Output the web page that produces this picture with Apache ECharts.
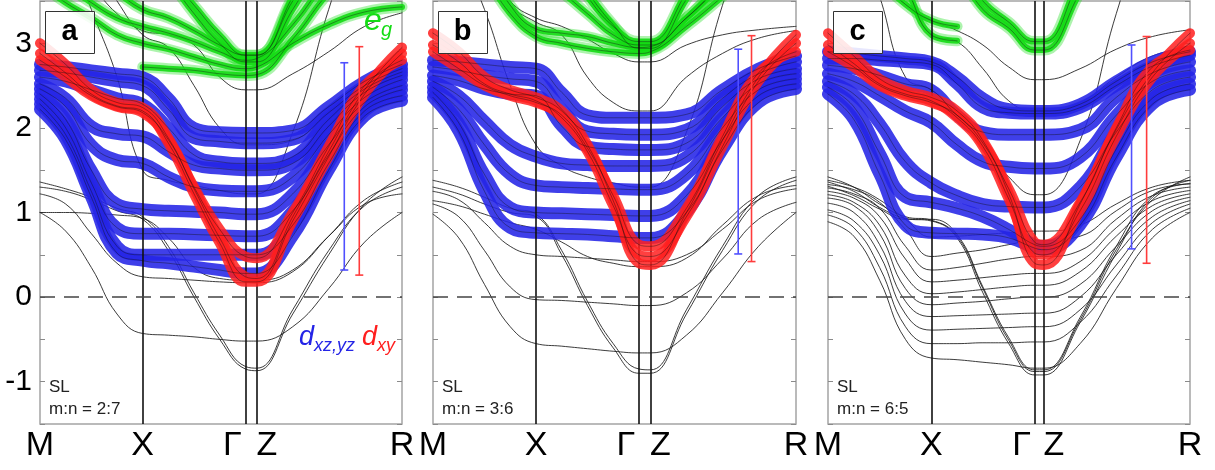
<!DOCTYPE html>
<html>
<head>
<meta charset="utf-8">
<script src="https://cdn.jsdelivr.net/npm/echarts@6/dist/echarts.min.js"></script>
<style>
  html, body { margin: 0; padding: 0; background: #fff; }
  #chart { width: 1215px; height: 470px; }
</style>
</head>
<body>
<div id="chart"></div>
<script>
// ---- k-path sampling (M, ¼, ½, ¾, X, …, Γ, Z, …, R) -------------------------
const K_A = [0, 0.25, 0.5, 0.75, 1, 1.25, 1.5, 1.75, 2, 2.111, 2.461, 2.811, 3.161, 3.525];
const K_B = [0, 0.25, 0.5, 0.75, 1, 1.25, 1.5, 1.75, 2, 2.111, 2.461, 2.811, 3.161, 3.525];
const K_C = [0, 0.25, 0.5, 0.75, 1, 1.25, 1.5, 1.75, 2, 2.091, 2.441, 2.791, 3.141, 3.505];
const K_NAMES = ['M', 'X', 'Γ', 'Z', 'R'];
const Y_TICKS = [-1, 0, 1, 2, 3];

// ---- panel a : SL m:n = 2:7 (energies in eV) -------------------------------
const GREEN_A = [
  [3.7, 3.48, 3.3, 3.1, 3.0, 2.93, 2.84, 2.75, 2.7, 2.72, 3.0, 3.22, 3.37, 3.43],
  [4.0, 3.7, 3.48, 3.3, 3.2, 3.12, 3.02, 2.9, 2.8, 2.82, 3.22, 3.8, 4.3, 4.6],
  [4.4, 4.1, 3.8, 3.6, 3.4, 3.3, 3.15, 2.98, 2.86, 2.86, 3.5, 4.2, 4.7, 5.0],
  [null, null, null, null, 2.72, 2.7, 2.68, 2.64, 2.62, 2.63, 3.05, 3.6, 4.0, 4.3],
  [5.5, 5.2, 4.8, 4.4, 4.1, 3.8, 3.45, 3.1, 2.86, 2.86, 3.55, 4.3, 4.9, 5.3],
  [5.5, 5.2, 4.8, 4.4, 4.1, 3.75, 3.35, 3.0, 2.78, 2.78, 3.4, 4.1, 4.7, 5.1]
];
const BLUE_A = [
  [2.75, 2.72, 2.68, 2.64, 2.6, 2.35, 2.0, 1.95, 1.94, 1.94, 1.97, 2.25, 2.55, 2.75],
  [2.68, 2.65, 2.6, 2.55, 2.5, 2.22, 1.88, 1.84, 1.82, 1.82, 1.86, 2.18, 2.5, 2.7],
  [2.6, 2.55, 2.45, 2.35, 2.28, 2.0, 1.68, 1.6, 1.58, 1.58, 1.66, 2.1, 2.46, 2.66],
  [2.52, 2.35, 2.02, 1.93, 1.9, 1.72, 1.56, 1.52, 1.5, 1.5, 1.58, 2.02, 2.42, 2.62],
  [2.46, 2.25, 1.8, 1.62, 1.58, 1.42, 1.3, 1.26, 1.25, 1.25, 1.42, 1.92, 2.36, 2.57],
  [2.4, 2.1, 1.5, 1.1, 1.04, 1.02, 1.01, 1.0, 0.98, 0.98, 1.22, 1.8, 2.3, 2.5],
  [2.34, 2.0, 1.35, 0.82, 0.75, 0.75, 0.74, 0.73, 0.72, 0.72, 1.02, 1.68, 2.25, 2.45],
  [2.28, 1.92, 1.25, 0.6, 0.5, 0.5, 0.5, 0.5, 0.5, 0.5, 0.85, 1.58, 2.2, 2.38],
  [2.22, 1.86, 1.18, 0.52, 0.43, 0.4, 0.36, 0.32, 0.28, 0.28, 0.72, 1.5, 2.14, 2.32]
];
const RED_A = [
  [3.0, 2.75, 2.45, 2.3, 2.24, 1.88, 1.28, 0.7, 0.24, 0.22, 0.95, 1.72, 2.45, 2.95],
  [2.88, 2.65, 2.4, 2.26, 2.2, 1.82, 1.22, 0.64, 0.18, 0.18, 0.9, 1.66, 2.4, 2.88],
  [2.8, 2.6, 2.38, 2.25, 2.18, 1.86, 1.3, 0.8, 0.48, 0.46, 1.0, 1.78, 2.5, 2.8]
];
const BLACK_A = [
  [1.0, 0.78, 0.35, -0.2, -0.43, -0.45, -0.47, -0.5, -0.52, -0.52, -0.35, 0.1, 0.65, 1.0],
  [1.22, 1.1, 0.75, 0.4, 0.24, 0.22, 0.2, 0.18, 0.17, 0.17, 0.3, 0.72, 1.15, 1.36],
  [1.3, 1.25, 1.15, 1.02, 0.92, 0.55, 0.0, -0.5, -0.85, -0.87, -0.2, 0.5, 1.1, 1.42],
  [1.36, 1.28, 1.18, 1.05, 0.95, 0.6, 0.05, -0.45, -0.82, -0.84, -0.15, 0.55, 1.08, 1.3],
  [1.0, 1.0, 0.99, 0.97, 0.93, 0.7, 0.35, 0.22, 0.2, 0.2, 0.32, 0.72, 1.1, 1.22],
  [5.0, 4.2, 3.4, 2.6, 1.5, 1.38, 1.32, 1.26, 1.22, 1.22, 1.95, 3.4, 4.6, 5.4],
  [5.0, 4.6, 4.0, 3.5, 3.1, 2.95, 2.5, 2.0, 1.8, 1.8, 1.85, 2.2, 2.5, 2.7],
  [4.6, 4.1, 3.7, 3.35, 3.15, 3.1, 2.98, 2.6, 2.45, 2.45, 2.64, 2.9, 3.2, 3.36]
];
// spread bars: [k, low, high]
const BAR_BLUE_A = [2.963, 0.32, 2.77];
const BAR_RED_A = [3.109, 0.26, 2.96];

// ---- panel b : SL m:n = 3:6 -------------------------------------------------
const GREEN_B = [
  [4.6, 4.2, 3.8, 3.35, 3.08, 3.0, 2.94, 2.9, 2.88, 2.9, 3.2, 3.55, 3.9, 4.2],
  [5.0, 4.5, 4.0, 3.45, 3.17, 3.12, 3.08, 3.0, 2.95, 2.96, 3.3, 3.7, 4.0, 4.3],
  [5.6, 5.3, 5.0, 4.6, 4.3, 4.0, 3.6, 3.22, 2.94, 2.94, 3.52, 4.2, 4.8, 5.2],
  [5.6, 5.3, 5.0, 4.6, 4.3, 4.0, 3.55, 3.2, 3.02, 3.02, 3.6, 4.3, 4.9, 5.3],
  [5.0, 4.8, 4.5, 4.1, 3.8, 3.6, 3.35, 3.1, 2.98, 2.98, 3.3, 3.7, 4.1, 4.4]
];
const BLUE_B = [
  [2.8, 2.78, 2.75, 2.72, 2.7, 2.42, 2.15, 2.12, 2.12, 2.12, 2.16, 2.45, 2.7, 2.85],
  [2.72, 2.68, 2.62, 2.58, 2.55, 2.22, 1.96, 1.93, 1.92, 1.92, 1.98, 2.35, 2.64, 2.78],
  [2.62, 2.56, 2.46, 2.4, 2.38, 2.02, 1.78, 1.75, 1.74, 1.74, 1.82, 2.25, 2.58, 2.7],
  [2.55, 2.38, 2.08, 1.8, 1.66, 1.58, 1.56, 1.55, 1.55, 1.55, 1.66, 2.12, 2.52, 2.64],
  [2.48, 2.22, 1.8, 1.45, 1.32, 1.3, 1.29, 1.28, 1.27, 1.27, 1.45, 2.0, 2.45, 2.58],
  [2.42, 2.06, 1.45, 1.06, 1.0, 0.99, 0.98, 0.97, 0.96, 0.96, 1.2, 1.86, 2.38, 2.52],
  [2.36, 1.96, 1.25, 0.82, 0.76, 0.75, 0.74, 0.72, 0.7, 0.7, 1.0, 1.74, 2.3, 2.46]
];
const RED_B = [
  [3.12, 2.9, 2.6, 2.45, 2.36, 2.2, 1.8, 1.14, 0.4, 0.38, 1.0, 1.85, 2.6, 3.1],
  [2.98, 2.78, 2.52, 2.4, 2.32, 2.12, 1.72, 1.08, 0.5, 0.48, 0.95, 1.78, 2.55, 3.0],
  [2.9, 2.7, 2.5, 2.38, 2.3, 2.15, 1.76, 1.2, 0.62, 0.6, 1.05, 1.9, 2.65, 2.9]
];
const BLACK_B = [
  [0.98, 0.7, 0.15, -0.35, -0.55, -0.58, -0.61, -0.64, -0.66, -0.66, -0.45, 0.05, 0.6, 1.0],
  [1.1, 0.95, 0.55, 0.12, -0.03, -0.04, -0.06, -0.08, -0.1, -0.1, 0.05, 0.45, 0.92, 1.12],
  [1.25, 1.15, 0.88, 0.6, 0.5, 0.48, 0.46, 0.44, 0.42, 0.42, 0.5, 0.8, 1.15, 1.28],
  [1.3, 1.22, 1.1, 1.0, 0.95, 0.5, -0.1, -0.6, -0.9, -0.9, -0.2, 0.55, 1.15, 1.38],
  [1.38, 1.3, 1.18, 1.05, 0.98, 0.55, -0.05, -0.55, -0.85, -0.86, -0.15, 0.6, 1.2, 1.42],
  [1.14, 1.08, 0.98, 0.88, 0.8, 0.65, 0.48, 0.4, 0.36, 0.36, 0.46, 0.85, 1.2, 1.32],
  [4.8, 4.1, 3.4, 2.5, 1.8, 1.55, 1.42, 1.35, 1.3, 1.3, 1.95, 3.45, 4.6, 5.4],
  [5.0, 4.5, 4.0, 3.5, 3.3, 3.2, 3.05, 2.88, 2.78, 2.78, 2.98, 3.1, 3.16, 3.2],
  [5.0, 4.5, 3.9, 3.45, 3.25, 3.1, 2.6, 2.3, 2.2, 2.2, 2.6, 2.88, 3.06, 3.15]
];
const BAR_BLUE_B = [2.964, 0.51, 2.93];
const BAR_RED_B = [3.093, 0.42, 3.09];

// ---- panel c : SL m:n = 6:5 -------------------------------------------------
const GREEN_C = [
  [null, 4.1, 3.75, 3.46, 3.27, 3.2, null, null, null, null, null, null, null, null],
  [null, 4.3, 4.0, 3.65, 3.1, 3.03, null, null, null, null, null, null, null, null],
  [5.6, 5.3, 5.0, 4.6, 4.2, 3.85, 3.4, 3.18, 2.92, 2.92, 3.6, 4.3, 4.9, 5.3],
  [5.6, 5.3, 5.0, 4.6, 4.3, 3.95, 3.5, 3.25, 3.02, 3.02, 3.75, 4.4, 5.0, 5.4]
];
const BLUE_C = [
  [2.9, 2.88, 2.85, 2.82, 2.78, 2.6, 2.35, 2.22, 2.2, 2.2, 2.28, 2.55, 2.78, 2.9],
  [2.82, 2.82, 2.8, 2.78, 2.75, 2.52, 2.24, 2.18, 2.17, 2.17, 2.24, 2.5, 2.73, 2.86],
  [2.74, 2.7, 2.62, 2.52, 2.45, 2.15, 1.95, 1.92, 1.92, 1.92, 1.98, 2.36, 2.65, 2.78],
  [2.64, 2.55, 2.38, 2.2, 2.06, 1.8, 1.6, 1.54, 1.52, 1.52, 1.65, 2.15, 2.55, 2.68],
  [2.55, 2.4, 2.05, 1.6, 1.35, 1.2, 1.1, 1.07, 1.06, 1.06, 1.3, 1.95, 2.45, 2.6],
  [2.48, 2.25, 1.7, 1.18, 1.12, 1.05, 0.95, 0.8, 0.62, 0.6, 0.92, 1.75, 2.35, 2.52],
  [2.4, 2.1, 1.45, 0.85, 0.76, 0.75, 0.74, 0.7, 0.58, 0.56, 0.85, 1.65, 2.28, 2.45]
];
const RED_C = [
  [3.12, 2.85, 2.58, 2.44, 2.36, 2.2, 1.85, 1.22, 0.4, 0.38, 1.1, 1.98, 2.65, 3.12],
  [2.98, 2.76, 2.52, 2.4, 2.32, 2.12, 1.78, 1.16, 0.52, 0.5, 1.02, 1.9, 2.6, 3.0],
  [2.9, 2.72, 2.5, 2.38, 2.3, 2.15, 1.82, 1.28, 0.65, 0.62, 1.12, 2.0, 2.72, 2.92]
];
const BLACK_C = [
  [0.89, 0.72, 0.2, -0.5, -0.72, -0.74, -0.77, -0.8, -0.84, -0.84, -0.55, 0.1, 0.7, 1.0],
  [0.97, 0.82, 0.35, -0.35, -0.55, -0.55, -0.54, -0.54, -0.53, -0.53, -0.3, 0.25, 0.8, 1.05],
  [1.03, 0.9, 0.5, -0.2, -0.39, -0.38, -0.37, -0.36, -0.35, -0.35, -0.15, 0.38, 0.88, 1.1],
  [1.11, 1.0, 0.62, -0.05, -0.23, -0.22, -0.21, -0.2, -0.19, -0.19, 0.0, 0.5, 0.95, 1.14],
  [1.17, 1.08, 0.75, 0.1, -0.09, -0.07, -0.05, -0.02, 0.0, 0.0, 0.15, 0.6, 1.02, 1.18],
  [1.21, 1.12, 0.85, 0.25, 0.04, 0.06, 0.09, 0.12, 0.14, 0.14, 0.3, 0.72, 1.08, 1.22],
  [1.25, 1.17, 0.95, 0.45, 0.18, 0.2, 0.23, 0.26, 0.28, 0.28, 0.42, 0.82, 1.14, 1.26],
  [1.29, 1.22, 1.05, 0.6, 0.32, 0.35, 0.4, 0.45, 0.48, 0.48, 0.55, 0.92, 1.2, 1.3],
  [1.33, 1.27, 1.12, 0.8, 0.48, 0.52, 0.56, 0.62, 0.67, 0.67, 0.72, 1.02, 1.26, 1.34],
  [1.38, 1.3, 1.15, 0.92, 0.71, 0.72, 0.74, 0.76, 0.78, 0.78, 0.85, 1.1, 1.3, 1.38],
  [1.42, 1.3, 1.1, 0.95, 0.91, 0.72, 0.1, -0.51, -0.88, -0.88, -0.27, 0.56, 1.15, 1.42],
  [1.36, 1.25, 1.06, 0.93, 0.9, 0.7, 0.05, -0.55, -0.92, -0.92, -0.3, 0.52, 1.18, 1.38],
  [1.31, 1.2, 1.04, 0.92, 0.92, 0.74, 0.12, -0.48, -0.86, -0.86, -0.24, 0.6, 1.2, 1.34],
  [5.2, 4.4, 3.55, 2.6, 2.45, 2.15, 1.78, 1.42, 1.21, 1.21, 1.85, 3.35, 4.6, 5.4],
  [4.6, 4.1, 3.75, 3.46, 3.27, 3.15, 2.98, 2.72, 2.57, 2.57, 2.7, 2.93, 3.08, 3.16],
  [5.0, 4.3, 4.0, 3.65, 3.1, 3.02, 2.7, 2.32, 2.2, 2.2, 2.3, 2.6, 2.85, 2.95]
];
const BAR_BLUE_C = [2.939, 0.57, 2.98];
const BAR_RED_C = [3.085, 0.40, 3.08];

const PANEL_TAGS = ['a', 'b', 'c'];
const PANEL_RATIOS = ['m:n = 2:7', 'm:n = 3:6', 'm:n = 6:5'];

// ---- layout ---------------------------------------------------------------
const GRID_LEFT = [40, 433, 828];
const GRID_WIDTH = [362, 363, 362];
const GRID_TOP = 1, GRID_HEIGHT = 423;
const FONT = '"Liberation Sans", Arial, Helvetica, sans-serif';

const COL_BLUE = '#2424e6';
const COL_RED = '#ff1e1e';
const COL_GREEN = '#14dc14';

const panels = [
  { k: K_A, green: GREEN_A, blue: BLUE_A, red: RED_A, black: BLACK_A, bars: [BAR_BLUE_A, BAR_RED_A] },
  { k: K_B, green: GREEN_B, blue: BLUE_B, red: RED_B, black: BLACK_B, bars: [BAR_BLUE_B, BAR_RED_B] },
  { k: K_C, green: GREEN_C, blue: BLUE_C, red: RED_C, black: BLACK_C, bars: [BAR_BLUE_C, BAR_RED_C] }
];

const grid = [], xAxis = [], yAxis = [], series = [], graphic = [];

function bandSeries(g, k, vals, lineStyle, z) {
  return {
    type: 'line', xAxisIndex: g, yAxisIndex: 2 * g, z: z,
    data: k.map((x, i) => [x, vals[i]]),
    showSymbol: false, symbol: 'none', smooth: 0.45,
    clip: true, silent: true, connectNulls: false,
    lineStyle: Object.assign({ cap: 'round', join: 'round' }, lineStyle)
  };
}

function renderBar(params, api) {
  const x = api.value(0);
  const lo = api.coord([x, api.value(1)]);
  const hi = api.coord([x, api.value(2)]);
  const c = api.visual('color');
  const w = 4;
  const st = { stroke: c, lineWidth: 1.6 };
  return {
    type: 'group',
    children: [
      { type: 'line', shape: { x1: lo[0], y1: lo[1], x2: hi[0], y2: hi[1] }, style: st },
      { type: 'line', shape: { x1: lo[0] - w, y1: lo[1], x2: lo[0] + w, y2: lo[1] }, style: st },
      { type: 'line', shape: { x1: hi[0] - w, y1: hi[1], x2: hi[0] + w, y2: hi[1] }, style: st }
    ]
  };
}

panels.forEach((p, g) => {
  const k = p.k;
  const ticks = [k[0], k[4], k[8], k[9], k[13]];
  grid.push({
    left: GRID_LEFT[g], top: GRID_TOP, width: GRID_WIDTH[g], height: GRID_HEIGHT,
    show: true, borderColor: '#a4a4a4', borderWidth: 1.5, backgroundColor: 'transparent'
  });
  xAxis.push({
    gridIndex: g, type: 'value', min: k[0], max: k[13],
    axisLine: { show: false }, axisTick: { show: false }, splitLine: { show: false },
    axisLabel: {
      customValues: ticks, showMinLabel: true, showMaxLabel: true, margin: 5,
      formatter: function (v) {
        let idx = ticks.findIndex(t => Math.abs(t - v) < 1e-6);
        if (idx < 0) return '';
        const name = K_NAMES[idx];
        if (name === 'Γ') return '{g|Γ}';
        if (name === 'Z') return '{z|Z}';
        return '{n|' + name + '}';
      },
      rich: {
        n: { fontSize: 34, fontFamily: FONT, color: '#000' },
        g: { fontSize: 34, fontFamily: FONT, color: '#000', padding: [0, 26, 0, 0] },
        z: { fontSize: 34, fontFamily: FONT, color: '#000', padding: [0, 0, 0, 20] }
      }
    }
  });
  const yCommon = {
    gridIndex: g, type: 'value', min: -1.5, max: 3.5, interval: 0.5,
    axisLine: { show: false }, splitLine: { show: false },
    axisTick: { show: true, inside: true, length: 5, lineStyle: { color: '#8a8a8a', width: 1 } }
  };
  yAxis.push(Object.assign({}, yCommon, {
    position: 'left',
    axisLabel: {
      show: g === 0, margin: 8, fontSize: 30, fontFamily: FONT, color: '#000',
      formatter: v => (Y_TICKS.indexOf(v) >= 0 ? String(v) : '')
    }
  }));
  yAxis.push(Object.assign({}, yCommon, { position: 'right', axisLabel: { show: false } }));

  // non-projected (thin black) bands
  p.black.forEach(v => series.push(bandSeries(g, k, v, { color: '#1a1a1a', width: 1, opacity: 0.85 }, 2)));
  // e_g bands: soft halo + core
  p.green.forEach(v => {
    series.push(bandSeries(g, k, v, { color: COL_GREEN, width: 11, opacity: 0.35 }, 3));
    series.push(bandSeries(g, k, v, { color: COL_GREEN, width: 6, opacity: 0.9 }, 3));
  });
  // d_xz,yz bands
  p.blue.forEach(v => series.push(bandSeries(g, k, v, { color: COL_BLUE, width: 12, opacity: 0.88 }, 4)));
  // d_xy bands
  p.red.forEach(v => series.push(bandSeries(g, k, v, { color: COL_RED, width: 10, opacity: 0.85 }, 5)));
  // band centre lines
  [].concat(p.green, p.blue, p.red).forEach(v =>
    series.push(bandSeries(g, k, v, { color: '#111', width: 0.9, opacity: 0.45 }, 6)));

  // high-symmetry verticals and Fermi level
  series.push({
    type: 'line', xAxisIndex: g, yAxisIndex: 2 * g, data: [], z: 7, silent: true,
    markLine: {
      silent: true, symbol: 'none', animation: false, label: { show: false },
      data: [
        { xAxis: k[4], lineStyle: { color: '#111', width: 1.6, type: 'solid' } },
        { xAxis: k[8], lineStyle: { color: '#111', width: 1.6, type: 'solid' } },
        { xAxis: k[9], lineStyle: { color: '#111', width: 1.6, type: 'solid' } },
        { yAxis: 0, lineStyle: { color: '#444', width: 1.5, type: [15, 9] } }
      ]
    }
  });

  // orbital spread bars
  series.push({
    type: 'custom', xAxisIndex: g, yAxisIndex: 2 * g, z: 8, silent: true,
    renderItem: renderBar, encode: { x: 0, y: [1, 2] },
    data: [
      { value: p.bars[0], itemStyle: { color: '#5050ff' } },
      { value: p.bars[1], itemStyle: { color: '#ff3c3c' } }
    ]
  });

  // panel tag box
  const gl = GRID_LEFT[g];
  graphic.push({
    type: 'rect', left: gl + 5, top: 11, z: 20,
    shape: { width: 49, height: 42 },
    style: { fill: 'rgba(255,255,255,0.88)', stroke: '#333', lineWidth: 1 }
  });
  graphic.push({
    type: 'text', x: gl + 29.5, y: 32, z: 21,
    style: { text: PANEL_TAGS[g], font: 'bold 29px ' + FONT, fill: '#000', align: 'center', verticalAlign: 'middle' }
  });
  graphic.push({
    type: 'text', x: gl + 9, y: 387, z: 21,
    style: { text: 'SL', font: '17px ' + FONT, fill: '#222', align: 'left', verticalAlign: 'middle' }
  });
  graphic.push({
    type: 'text', x: gl + 9, y: 409, z: 21,
    style: { text: PANEL_RATIOS[g], font: '17px ' + FONT, fill: '#222', align: 'left', verticalAlign: 'middle' }
  });
});

// orbital legend text (panel a)
graphic.push(
  { type: 'text', x: 364, y: 21, z: 21, style: { text: 'e', font: 'italic 32px ' + FONT, fill: COL_GREEN, align: 'left', verticalAlign: 'middle' } },
  { type: 'text', x: 381, y: 30, z: 21, style: { text: 'g', font: 'italic 20px ' + FONT, fill: COL_GREEN, align: 'left', verticalAlign: 'middle' } },
  { type: 'text', x: 299, y: 337, z: 21, style: { text: 'd', font: 'italic 27px ' + FONT, fill: COL_BLUE, align: 'left', verticalAlign: 'middle' } },
  { type: 'text', x: 314, y: 346, z: 21, style: { text: 'xz,yz', font: 'italic 18px ' + FONT, fill: COL_BLUE, align: 'left', verticalAlign: 'middle' } },
  { type: 'text', x: 362, y: 337, z: 21, style: { text: 'd', font: 'italic 27px ' + FONT, fill: COL_RED, align: 'left', verticalAlign: 'middle' } },
  { type: 'text', x: 377, y: 346, z: 21, style: { text: 'xy', font: 'italic 18px ' + FONT, fill: COL_RED, align: 'left', verticalAlign: 'middle' } }
);

const chart = echarts.init(document.getElementById('chart'), null, { renderer: 'canvas' });
chart.setOption({
  animation: false,
  backgroundColor: '#fff',
  grid: grid, xAxis: xAxis, yAxis: yAxis, series: series, graphic: graphic
});
</script>
</body>
</html>
